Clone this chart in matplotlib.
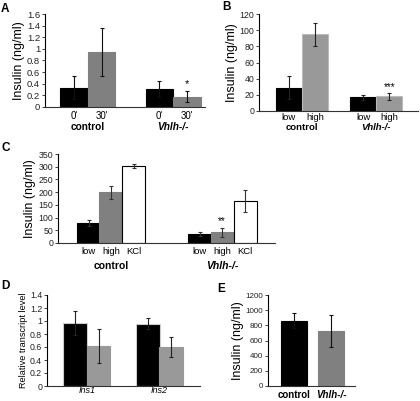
import matplotlib.pyplot as plt
import matplotlib.transforms as mtransforms

plt.rcParams['font.family'] = ['Liberation Sans', 'DejaVu Sans']

W, H = 420, 401
BLACK = '#000000'
GRAY = '#808080'
LGRAY = '#999999'

# --- data -----------------------------------------------------------------
a_labels = ["0'", "30'", "0'", "30'"]
a_values = [0.33, 0.95, 0.31, 0.18]
a_errors = [0.20, 0.41, 0.13, 0.10]

b_labels = ['low', 'high', 'low', 'high']
b_values = [29, 95, 17, 18]
b_errors = [14, 14, 3, 4]

c_labels = ['low', 'high', 'KCl', 'low', 'high', 'KCl']
c_values = [78, 200, 302, 35, 42, 165]
c_errors = [13, 25, 7, 8, 18, 45]

d_labels = ['Ins1', 'Ins2']
d_values = [0.97, 0.62, 0.96, 0.60]
d_errors = [0.19, 0.26, 0.08, 0.15]

e_labels = ['control', 'Vhlh-/-']
e_values = [860, 730]
e_errors = [100, 210]

groups = ['control', 'Vhlh-/-']


def px_axes(fig, left, top, right, bottom):
    return fig.add_axes([left / W, 1 - bottom / H, (right - left) / W, (bottom - top) / H])


def style(ax, ymax, step, fs, fmt=None):
    ax.spines['top'].set_visible(False)
    ax.spines['right'].set_visible(False)
    ax.spines['left'].set_linewidth(0.8)
    ax.spines['bottom'].set_linewidth(0.8)
    ax.spines['bottom'].set_color('#333333')
    ax.set_ylim(0, ymax)
    ticks = [i * step for i in range(int(round(ymax / step)) + 1)]
    ax.set_yticks(ticks)
    if fmt:
        ax.set_yticklabels([fmt(t) for t in ticks])
    ax.tick_params(axis='y', length=2, width=0.6, pad=1.5, labelsize=fs, colors='#222222')
    ax.set_xticks([])


def under(ax, x, dy, s, fs, bold=False, italic=False):
    tr = mtransforms.blended_transform_factory(ax.transData, ax.transAxes)
    off = mtransforms.offset_copy(tr, fig=ax.figure, x=0, y=-dy, units='dots')
    ax.text(x, 0, s, transform=off, ha='center', va='center', fontsize=fs,
            fontweight='bold' if bold else 'normal', style='italic' if italic else 'normal')


def bars(ax, xs, vals, errs, colors, edges, ecolor='#111111'):
    ax.bar(xs, vals, width=1.0, color=colors, edgecolor=edges, linewidth=0.8,
           yerr=errs, error_kw=dict(ecolor=ecolor, elinewidth=0.8, capsize=1.5, capthick=0.8))


fig = plt.figure(figsize=(W / 100, H / 100), dpi=100)

# --- A --------------------------------------------------------------------
ax = px_axes(fig, 45, 14, 205, 107)
xa = [1.05, 2.05, 4.15, 5.15]
bars(ax, xa, a_values, a_errors, [BLACK, GRAY, BLACK, GRAY], [BLACK, GRAY, BLACK, GRAY])
ax.set_xlim(0, 5.8)
style(ax, 1.6, 0.2, 6.8, lambda t: ('%g' % round(t, 1)))
for x, s in zip(xa, a_labels):
    under(ax, x, 9.5, s, 7)
ax.set_ylabel('Insulin (ng/ml)', fontsize=9, labelpad=1)
under(ax, 1.55, 20, groups[0], 7.3, bold=True)
under(ax, 4.65, 20, groups[1], 7.3, bold=True, italic=True)
ax.text(xa[3], a_values[3] + a_errors[3] + 0.03, '*', ha='center', va='bottom', fontsize=8)
fig.text(1 / W, 1 - 9 / H, 'A', fontsize=8.5, fontweight='bold', va='center')

# --- B --------------------------------------------------------------------
ax = px_axes(fig, 259, 14, 418, 111)
xb = [1.15, 2.15, 4.0, 5.0]
bars(ax, xb, b_values, b_errors, [BLACK, LGRAY, BLACK, LGRAY],
     [BLACK, '#bbbbbb', BLACK, '#bbbbbb'], ecolor='#222222')
ax.set_xlim(0, 6.1)
style(ax, 120, 20, 6.3)
for x, s in zip(xb, b_labels):
    under(ax, x, 6, s, 6.8)
ax.set_ylabel('Insulin (ng/ml)', fontsize=9, labelpad=1)
under(ax, 1.65, 16, groups[0], 6.8, bold=True)
under(ax, 4.5, 16, groups[1], 6.8, bold=True, italic=True)
ax.text(xb[3], b_values[3] + b_errors[3] + 1.5, '***', ha='center', va='bottom', fontsize=7)
fig.text(222 / W, 1 - 7 / H, 'B', fontsize=8.5, fontweight='bold', va='center')

# --- C --------------------------------------------------------------------
ax = px_axes(fig, 58, 154, 275, 243)
xc = [1.33, 2.3, 3.3, 6.15, 7.13, 8.13]
bars(ax, xc, c_values, c_errors, [BLACK, GRAY, 'white'] * 2, [BLACK, GRAY, BLACK] * 2,
     ecolor='#333333')
ax.set_xlim(0, 9.43)
style(ax, 350, 50, 6.3)
for x, s in zip(xc, c_labels):
    under(ax, x, 8, s, 6.8)
ax.set_ylabel('Insulin (ng/ml)', fontsize=9, labelpad=2)
under(ax, 2.3, 23, groups[0], 7.5, bold=True)
under(ax, 7.13, 23, groups[1], 7.5, bold=True, italic=True)
ax.text(xc[4], c_values[4] + c_errors[4] + 5, '**', ha='center', va='bottom', fontsize=7)
fig.text(1 / W, 1 - 148 / H, 'C', fontsize=8.5, fontweight='bold', va='center')

# --- D --------------------------------------------------------------------
ax = px_axes(fig, 47, 295, 200, 386)
xd = [1.19, 2.19, 4.28, 5.26]
bars(ax, xd, d_values, d_errors, [BLACK, LGRAY, BLACK, LGRAY],
     ['#cccccc', LGRAY, '#cccccc', LGRAY], ecolor='#222222')
ax.set_xlim(0, 6.5)
style(ax, 1.4, 0.2, 6.3, lambda t: ('%g' % round(t, 1)))
under(ax, 1.69, 4.5, d_labels[0], 6.5, italic=True)
under(ax, 4.77, 4.5, d_labels[1], 6.5, italic=True)
ax.set_ylabel('Relative transcript level', fontsize=6.6, labelpad=1)
fig.text(1 / W, 1 - 286 / H, 'D', fontsize=8.5, fontweight='bold', va='center')

# --- E --------------------------------------------------------------------
ax = px_axes(fig, 268, 295, 355, 386)
xe = [1.0, 2.44]
bars(ax, xe, e_values, e_errors, [BLACK, GRAY], [BLACK, GRAY])
ax.set_xlim(0, 3.35)
style(ax, 1200, 200, 5.8)
ax.set_ylabel('Insulin (ng/ml)', fontsize=9, labelpad=1)
under(ax, xe[0], 9, e_labels[0], 7, bold=True)
under(ax, xe[1], 9, e_labels[1], 7, bold=True, italic=True)
fig.text(217 / W, 1 - 289 / H, 'E', fontsize=8.5, fontweight='bold', va='center')

fig.savefig('out.png', dpi=100)
